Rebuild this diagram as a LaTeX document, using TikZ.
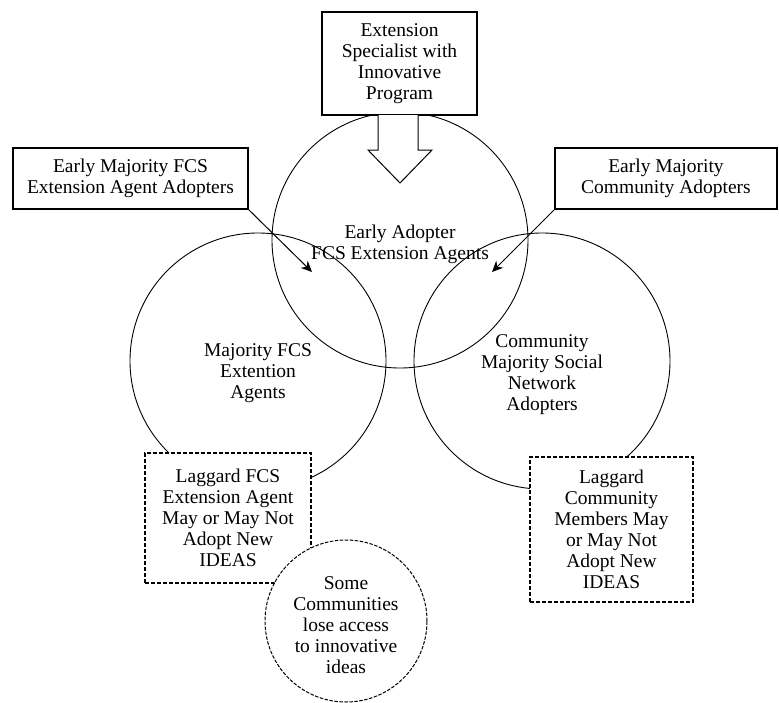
\documentclass[tikz,border=0pt]{standalone}
\usepackage{fontspec}
\setmainfont{Liberation Serif}
\usetikzlibrary{arrows.meta}
\begin{document}
\begin{tikzpicture}[x=1pt,y=-1pt,
  every node/.style={font=\fontsize{19.5pt}{21pt}\selectfont, align=center, inner sep=0pt},
  ring/.style={circle, draw, line width=0.9pt, minimum size=256pt},
  solidbox/.style={rectangle, draw, line width=1.2pt, fill=white},
  dashbox/.style={rectangle, draw, line width=1.1pt, fill=white, dash pattern=on 4pt off 2pt},
  dashring/.style={circle, draw, line width=1pt, fill=white, dash pattern=on 3.5pt off 1.5pt, minimum size=162pt},
  link/.style={line width=1pt, -{Stealth[length=11pt,width=10pt]}},
  lbl/.style={text=black}
]
\useasboundingbox (0,0) rectangle (779,702);

% three overlapping circles
\node[ring] (ctop) at (400,240) {};
\node[ring] (cleft) at (258,361) {};
\node[ring] (cright) at (542,361) {};

% top box
\node[solidbox, minimum width=155pt, minimum height=103pt] (spec) at (399.5,63.5)
  {Extension\\Specialist with\\Innovative\\Program};

% block arrow
\draw[line width=1pt, fill=white, line join=miter]
  (378,115) -- (378,150) -- (368,150) -- (400,183) -- (432,150) -- (418,150) -- (418,115);

% side boxes
\node[solidbox, minimum width=235pt, minimum height=61pt] (lbox) at (130.5,178.5)
  {Early Majority FCS\\Extension Agent Adopters};
\node[solidbox, minimum width=222pt, minimum height=61pt] (rbox) at (666,178.5)
  {Early Majority\\Community Adopters};

\coordinate (ltip) at (312,272);
\coordinate (rtip) at (492,272);
\draw[link] (lbox.south east) -- (ltip);
\draw[link] (rbox.south west) -- (rtip);

% circle labels
\node[lbl] (ttop) at (400,244) {Early Adopter\\FCS Extension Agents};
\node[lbl] (tleft) at (258,373) {Majority FCS\\Extention\\Agents};
\node[lbl] (tright) at (542,375) {Community\\Majority Social\\Network\\Adopters};

% dashed boxes
\node[dashbox, minimum width=166pt, minimum height=130pt] (lag1) at (228,518)
  {Laggard FCS\\Extension Agent\\May or May Not\\Adopt New\\IDEAS};
\node[dashbox, minimum width=163pt, minimum height=145pt] (lag2) at (611.5,529.5)
  {Laggard\\Community\\Members May\\or May Not\\Adopt New\\IDEAS};

% bottom circle
\node[dashring] (lose) at (346,621) {};
\node[lbl] (losetxt) at (346,625) {Some\\Communities\\lose access\\to innovative\\ideas};
\end{tikzpicture}
\end{document}
